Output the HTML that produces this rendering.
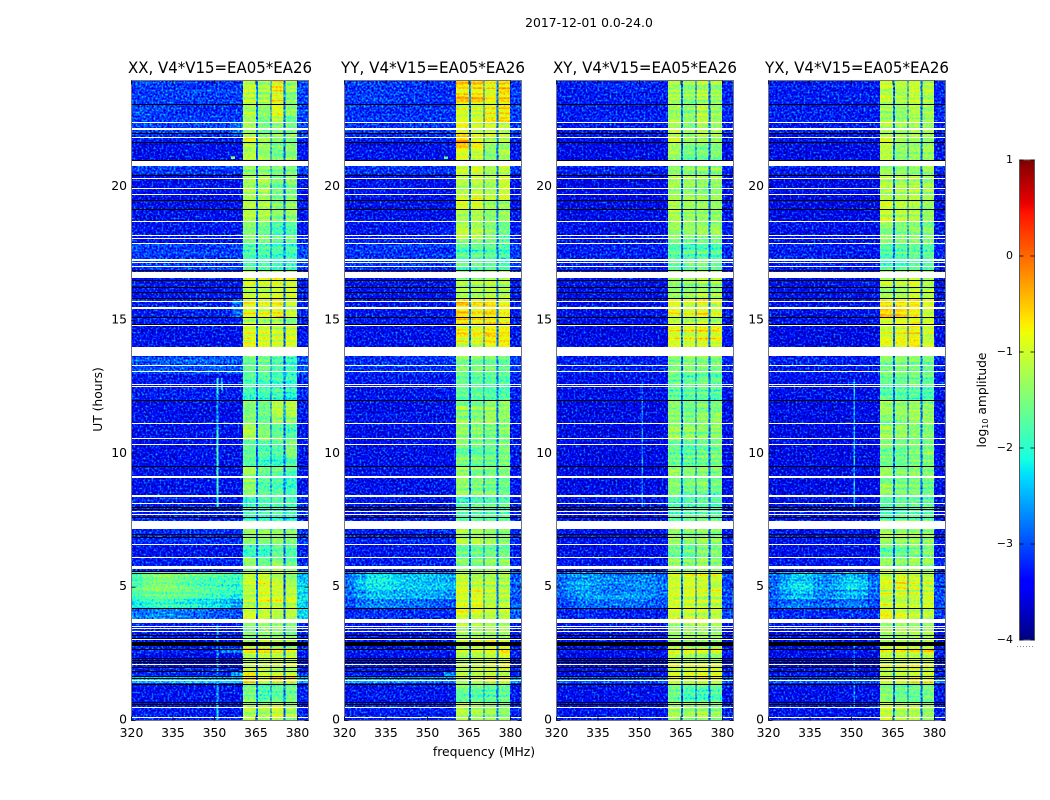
<!DOCTYPE html>
<html>
<head>
<meta charset="utf-8">
<style>
html,body{margin:0;padding:0;background:#fff;width:1050px;height:800px;overflow:hidden}
svg{display:block}
text{font-family:"DejaVu Sans","Liberation Sans",sans-serif;fill:#000}
</style>
</head>
<body>
<svg id="figure" width="1050" height="800" viewBox="0 0 1050 800" xmlns="http://www.w3.org/2000/svg">
<rect width="1050" height="800" fill="#fff"/>
<defs id="defs"></defs>
<text x="589" y="27" font-size="12.4" text-anchor="middle">2017-12-01 0.0-24.0</text>
<text x="484" y="756" font-size="12.4" text-anchor="middle">frequency (MHz)</text>
<text transform="translate(102,399.5) rotate(-90)" font-size="12.3" text-anchor="middle">UT (hours)</text>
<text transform="translate(986,400) rotate(-90)" font-size="12.3" text-anchor="middle">log<tspan font-size="8" dy="2">10</tspan><tspan dy="-2"> amplitude</tspan></text>
</svg>
<script>
// ---------- chart data (log10 amplitude, hours, MHz) ----------
const panelTitles = ["XX, V4*V15=EA05*EA26","YY, V4*V15=EA05*EA26","XY, V4*V15=EA05*EA26","YX, V4*V15=EA05*EA26"];
const xTickLabels = [320,335,350,365,380];
const yTickLabels = [0,5,10,15,20];
const colorbarTicks = [1,0,-1,-2,-3,-4];

// time segments, top to bottom (hours)
const segmentEdges = [24,23.1,22.45,21.9,21.7,21,20.5,19.5,18.7,17.9,16.9,15.85,15.1,14.8,14,13.65,13,12.5,12,11.1,10.5,9.5,9.1,8.4,7.5,6.6,6.1,5.6,4.9,4.2,3.8,3,2.7,2.55,2.1,1.95,1.8,1.65,1.4,0.7,0];
// spectral windows (MHz)
const bandLow = [360.4,365.8,370.6,375.6];
const bandHigh = [365.1,370.2,374.9,379.8];

const xxBackground = [-3.1,-3.1,-3.1,-3.3,-3.4,-3.1,-3.4,-3.4,-3.35,-3.1,-3.35,-3.3,-3.3,-3.4,-3.4,-3,-3.35,-3.3,-3.4,-3.4,-3.4,-3.4,-3.4,-3.3,-3.2,-3.35,-3.3,-3.3,-3.3,-3.3,-3.3,-3.3,-3.2,-3.4,-3.3,-3.3,-3.2,-2.4,-3.35,-3.3];
const yyBackground = [-3.15,-3.15,-3.15,-3.3,-3.4,-3.15,-3.4,-3.4,-3.35,-3.15,-3.35,-3.35,-3.35,-3.4,-3.4,-3.15,-3.35,-3.35,-3.4,-3.4,-3.4,-3.4,-3.4,-3.35,-3.25,-3.35,-3.3,-3.3,-3.3,-3.3,-3.35,-3.35,-3.3,-3.4,-3.35,-3.35,-3.3,-2.6,-3.35,-3.3];
const xyBackground = [-3.3,-3.3,-3.35,-3.4,-3.45,-3.3,-3.45,-3.45,-3.4,-3.3,-3.4,-3.4,-3.4,-3.45,-3.45,-3.3,-3.4,-3.4,-3.45,-3.45,-3.45,-3.45,-3.45,-3.4,-3.35,-3.4,-3.35,-3.35,-3.35,-3.35,-3.4,-3.4,-3.35,-3.45,-3.4,-3.4,-3.4,-2.9,-3.4,-3.35];
const yxBackground = [-3.3,-3.3,-3.35,-3.4,-3.45,-3.3,-3.45,-3.45,-3.4,-3.3,-3.4,-3.4,-3.4,-3.45,-3.45,-3.3,-3.4,-3.4,-3.45,-3.45,-3.45,-3.45,-3.45,-3.4,-3.35,-3.4,-3.35,-3.35,-3.35,-3.35,-3.4,-3.4,-3.35,-3.45,-3.4,-3.4,-3.4,-2.9,-3.4,-3.35];

const xxBands = [[-1.1,-1.25,-.8,-1.35],[-1.2,-1.45,-1,-1.5],[-1.25,-1.5,-1.4,-1.5],[-.9,-1.3,-1.5,-1.5],[-1.2,-1.4,-1.6,-1.5],[-1.4,-1.4,-1.5,-1.5],[-1.25,-1.25,-1.55,-1.45],[-1.15,-1.2,-1.45,-1.4],[-1.45,-1.55,-1.75,-1.65],[-1.8,-1.8,-1.9,-1.9],[-1.05,-1.05,-.95,-.95],[-.85,-.9,-.8,-1.05],[-1.2,-1.2,-1,-1.3],[-.9,-.95,-1,-.95],[-1,-1,-1,-1],[-1.6,-1.5,-1.7,-1.85],[-1.75,-1.85,-1.9,-2],[-1.9,-1.9,-1.9,-2.1],[-1.45,-1.6,-1.25,-1.3],[-1.2,-1.4,-1.6,-1.8],[-1.7,-1.8,-1.8,-1.55],[-1.3,-1.6,-1.6,-1.8],[-1.4,-1.7,-1.7,-1.85],[-1.95,-1.9,-1.9,-2],[-1.4,-1.5,-1.5,-1.6],[-1.9,-1.9,-1.65,-1.8],[-1.4,-1.6,-1.4,-1.6],[-1.05,-.9,-1,-1.15],[-1.15,-.95,-1,-1.1],[-.95,-1,-1.1,-1.05],[-1.5,-1.4,-1.4,-1.5],[-1.2,-1.05,-1.2,-1.3],[-.45,-.45,-.55,-.6],[-1.2,-1.2,-1.2,-1.2],[-.95,-.95,-.9,-.85],[-1.2,-1.2,-1.2,-1.2],[-.6,-1.1,-1.1,-1.2],[-.55,-.85,-.5,-.6],[-1.5,-1.85,-1.7,-1.6],[-1.2,-1.25,-1,-1.25]];
const yyBands = [[-.55,-.6,-.85,-.6],[-1,-1.05,-.8,-.7],[-.95,-1.15,-1.05,-1.1],[-.5,-1,-1.3,-1.2],[-.75,-.95,-1.4,-1.25],[-1,-.95,-1.2,-1.05],[-1.05,-1,-1.2,-1],[-1.1,-1.1,-1.35,-1.3],[-1.35,-1.35,-1.5,-1.6],[-1.75,-1.7,-1.7,-1.85],[-1.25,-1.25,-1.15,-1.2],[-.6,-.75,-.65,-.8],[-.6,-.75,-.7,-.8],[-.85,-.9,-.7,-.75],[-1,-1,-1,-1],[-1.5,-1.55,-1.55,-1.65],[-1.6,-1.7,-1.7,-1.75],[-1.7,-1.7,-1.75,-1.8],[-1.4,-1.45,-1.3,-1.35],[-1.3,-1.35,-1.5,-1.45],[-1.55,-1.6,-1.6,-1.5],[-1.3,-1.5,-1.5,-1.5],[-1.4,-1.5,-1.55,-1.6],[-1.8,-1.7,-1.7,-1.75],[-1.3,-1.3,-1.35,-1.4],[-1.65,-1.6,-1.6,-1.6],[-1.35,-1.45,-1.3,-1.4],[-1,-1.1,-1.15,-1.2],[-.9,-.85,-1.1,-1.15],[-.95,-1,-1.1,-1.1],[-1.3,-1.3,-1.25,-1.25],[-1.2,-1.1,-.95,-1.1],[-.9,-.9,-.85,-.6],[-1.1,-1.05,-1.05,-1],[-.85,-.85,-.8,-.75],[-1.2,-1.1,-1.1,-1.1],[-1,-1.1,-1.1,-1.2],[-.9,-.85,-.6,-.8],[-1.6,-1.7,-1.75,-1.65],[-1.2,-1.25,-1.3,-1.4]];
const xyBands = [[-1.2,-1.25,-1.05,-1.2],[-1.3,-1.45,-1.2,-1.35],[-1.25,-1.5,-1.3,-1.35],[-.9,-1.35,-1.35,-1.4],[-1.25,-1.45,-1.4,-1.35],[-1.35,-1.4,-1.4,-1.35],[-1.25,-1.3,-1.35,-1.35],[-1.15,-1.25,-1.3,-1.35],[-1.4,-1.5,-1.5,-1.5],[-1.7,-1.75,-1.7,-1.8],[-1.35,-1.35,-1.2,-1.25],[-.85,-.95,-.75,-.95],[-1.1,-1.1,-.9,-1.1],[-.9,-1,-.95,-1],[-1,-1,-1,-1],[-1.5,-1.5,-1.55,-1.6],[-1.6,-1.7,-1.6,-1.7],[-1.7,-1.75,-1.75,-1.85],[-1.4,-1.5,-1.35,-1.35],[-1.3,-1.4,-1.5,-1.45],[-1.6,-1.65,-1.55,-1.5],[-1.35,-1.5,-1.5,-1.55],[-1.45,-1.55,-1.5,-1.6],[-1.8,-1.75,-1.7,-1.8],[-1.3,-1.35,-1.3,-1.4],[-1.6,-1.65,-1.5,-1.55],[-1.35,-1.45,-1.3,-1.4],[-1,-.9,-.95,-1],[-1,-1,-1.05,-1.05],[-1,-1,-1.05,-1.1],[-1.35,-1.3,-1.3,-1.35],[-1.15,-1.1,-1.15,-1.2],[-.7,-.7,-.7,-.7],[-1.1,-1.1,-1.1,-1.1],[-.9,-.9,-.85,-.85],[-1.2,-1.15,-1.15,-1.15],[-1,-1.1,-1.1,-1.15],[-.85,-.85,-.65,-.8],[-1.55,-1.7,-1.7,-1.6],[-1.25,-1.3,-1.2,-1.35]];
const yxBands = [[-1.1,-1.2,-1.05,-1.2],[-1.25,-1.35,-1.2,-1.3],[-1.25,-1.35,-1.3,-1.35],[-1,-1.3,-1.3,-1.35],[-1.2,-1.4,-1.35,-1.3],[-1.3,-1.35,-1.35,-1.3],[-1.2,-1.25,-1.2,-1.25],[-1.1,-1.2,-1.2,-1.3],[-1.35,-1.45,-1.4,-1.45],[-1.7,-1.7,-1.65,-1.75],[-1.3,-1.25,-1,-1.15],[-.75,-.7,-.7,-.9],[-.95,-.9,-.85,-1.05],[-.9,-.85,-.75,-1],[-1,-1,-1,-1],[-1.5,-1.45,-1.5,-1.55],[-1.6,-1.6,-1.55,-1.65],[-1.7,-1.7,-1.7,-1.8],[-1.4,-1.4,-1.3,-1.35],[-1.3,-1.35,-1.45,-1.45],[-1.55,-1.6,-1.5,-1.5],[-1.35,-1.45,-1.45,-1.5],[-1.4,-1.5,-1.45,-1.55],[-1.8,-1.7,-1.7,-1.75],[-1.3,-1.3,-1.3,-1.35],[-1.6,-1.6,-1.5,-1.5],[-1.35,-1.4,-1.3,-1.35],[-1,-.85,-1,-1.05],[-.95,-1,-1.05,-1.05],[-.95,-1,-1.05,-1.1],[-1.3,-1.25,-1.25,-1.3],[-1.15,-1.05,-1.1,-1.15],[-.75,-.7,-.7,-.75],[-1.1,-1.05,-1.05,-1.1],[-.9,-.9,-.85,-.85],[-1.15,-1.1,-1.1,-1.15],[-1,-1.05,-1.1,-1.1],[-.85,-.8,-.65,-.8],[-1.5,-1.6,-1.6,-1.55],[-1.05,-1.2,-1.15,-1.3]];

// broadband emission event around 4-5.6 h
const eventEdges = [5.6,5.25,4.9,4.55,4.2,3.8];
const eventFreqEdges = [320,324,328,332,336,340,344,348,352,356,360.4];
const xxEvent = [[-1.85,-1.65,-1.5,-1.5,-1.6,-1.7,-1.75,-1.8,-1.85,-1.95],[-1.8,-1.55,-1.45,-1.45,-1.55,-1.6,-1.7,-1.75,-1.85,-1.95],[-1.9,-1.7,-1.6,-1.6,-1.65,-1.75,-1.8,-1.9,-2,-2.1],[-2.2,-2.05,-1.95,-1.95,-2,-2.1,-2.15,-2.2,-2.35,-2.6],[-2.85,-2.8,-2.7,-2.7,-2.75,-2.8,-2.85,-2.9,-2.95,-3]];
const yyEvent = [[-2.85,-2.6,-2.35,-2.3,-2.35,-2.45,-2.4,-2.4,-2.45,-2.5],[-2.8,-2.5,-2.25,-2.25,-2.35,-2.4,-2.4,-2.4,-2.4,-2.5],[-2.85,-2.6,-2.4,-2.4,-2.45,-2.5,-2.5,-2.5,-2.55,-2.6],[-3,-2.85,-2.75,-2.75,-2.8,-2.8,-2.85,-2.85,-2.9,-2.95],[-3.25,-3.2,-3.15,-3.15,-3.15,-3.15,-3.2,-3.2,-3.2,-3.25]];
const xyEvent = [[-2.9,-2.7,-2.6,-2.65,-2.7,-2.75,-2.75,-2.75,-2.75,-2.85],[-2.85,-2.6,-2.5,-2.6,-2.7,-2.7,-2.7,-2.65,-2.7,-2.8],[-2.9,-2.7,-2.6,-2.65,-2.75,-2.75,-2.7,-2.7,-2.75,-2.85],[-3,-2.9,-2.8,-2.85,-2.9,-2.9,-2.9,-2.9,-2.95,-3],[-3.25,-3.25,-3.2,-3.2,-3.25,-3.25,-3.25,-3.25,-3.25,-3.3]];
const yxEvent = [[-2.9,-2.6,-2.4,-2.4,-2.6,-2.7,-2.55,-2.4,-2.5,-2.85],[-2.85,-2.5,-2.25,-2.3,-2.6,-2.65,-2.45,-2.25,-2.4,-2.8],[-2.9,-2.6,-2.4,-2.45,-2.7,-2.7,-2.55,-2.4,-2.5,-2.85],[-3,-2.85,-2.75,-2.8,-2.9,-2.9,-2.85,-2.8,-2.85,-3],[-3.25,-3.2,-3.2,-3.2,-3.25,-3.25,-3.2,-3.2,-3.2,-3.25]];
// high-frequency edge (380-384 MHz) during the event
const eventRight = [-2.3,-2.95,-3.05,-3.05];

// narrow-band interference and short streaks
const featurePanel = [0,0,0,0,0,0,0,0,0,1,1,2,3,3,0,0];
const featureLow  = [350.7,352.3,350.7,350.7,352,356,356.5,356.5,356,356,356,350.7,350.7,350.7,350.7,350.7];
const featureHigh = [351.4,353,351.4,351.4,360.4,360.4,360.4,360.4,357.5,357.5,360.4,351.2,351.2,351.2,351.4,351.4];
const featureTop  = [12.85,12.85,10.9,3.6,2.7,1.8,15.85,22.45,21.15,21.15,1.8,12.8,12.8,3.4,12.3,0.6];
const featureBottom=[12.3,12.4,8,0,2.55,1.65,15.1,21.9,21.05,21.05,1.65,8,8,0.5,10.9,0.1];
const featureLevel = [-1.9,-2.4,-1.95,-2.55,-2.5,-2.5,-2.85,-2.85,-1.3,-1.6,-2.6,-2.75,-2.45,-2.7,-2.5,-2.1];

// flagged (white) intervals
const flagStart = [20.78,16.58,13.65,7.17,5.66,3.64,22.12,15.42,9.09];
const flagEnd   = [20.97,16.8,13.98,7.47,5.78,3.79,22.2,15.49,9.16];
const flagLines = [22.41,21.87,21.67,20.33,19.95,19.71,18.7,18.18,18.08,17.88,17.3,17.26,17.18,17.02,15.7,14.81,13.32,13.08,12.59,12.51,11.13,10.56,10.34,8.45,8.4,8.13,7.84,7.73,6.59,6.1,3.54,3.45,3.34,3.03,2.09,1.5,0.49,0.1];
// zero-amplitude (black) intervals
const zeroLines = [23.09,22.02,21.67,21,20.45,19.49,19.15,16.88,16.5,16.25,16.04,15.84,15.1,14.85,11.99,9.54,7.98,7.93,7.61,6.96,6.86,5.58,5.53,4.19,3.2,3.09,2.66,2.34,2.25,2.16,1.98,1.84,1.64,1.59,1.35,0.69,0.59];
const zeroStart = [2.78];
const zeroEnd = [2.94];

const backgroundByPanel = [xxBackground,yyBackground,xyBackground,yxBackground];
const bandsByPanel = [xxBands,yyBands,xyBands,yxBands];
const eventByPanel = [xxEvent,yyEvent,xyEvent,yxEvent];
const gapLevel = [-2.85,-2.8,-2.85,-2.85];

// ---------- layout and scales ----------
const NS = "http://www.w3.org/2000/svg";
const fig = document.getElementById("figure");
const defs = document.getElementById("defs");
const panelLeft = [131.5,344.5,556.5,768.5];
const panelWidth = 177, plotTop = 80.5, plotBottom = 720.5;
const xScale = (p,f) => panelLeft[p] + (f-320)*panelWidth/64;
const yScale = h => plotBottom - h*(plotBottom-plotTop)/24;
function lerp(stops,t){
  for(let i=1;i<stops.length;i++){
    if(t<=stops[i][0]){
      const a=stops[i-1],b=stops[i];
      return a[1]+(b[1]-a[1])*(t-a[0])/(b[0]-a[0]);
    }
  }
  return stops[stops.length-1][1];
}
const jetR=[[0,0],[.35,0],[.66,1],[.89,1],[1,.5]];
const jetG=[[0,0],[.125,0],[.375,1],[.64,1],[.91,0],[1,0]];
const jetB=[[0,.5],[.11,1],[.34,1],[.65,0],[1,0]];
function el(tag,attrs,parent){
  const e=document.createElementNS(NS,tag);
  for(const k in attrs) e.setAttribute(k,attrs[k]);
  (parent||fig).appendChild(e);
  return e;
}
const levelGray = v => { const g=Math.round(Math.max(0,Math.min(1,(v+4)/5))*255); return "rgb("+g+","+g+","+g+")"; };
function jetColor(t){
  return "rgb("+Math.round(lerp(jetR,t)*255)+","+Math.round(lerp(jetG,t)*255)+","+Math.round(lerp(jetB,t)*255)+")";
}
function table(stops){
  const out=[];
  for(let i=0;i<=128;i++) out.push(lerp(stops,i/128).toFixed(4));
  return out.join(" ");
}
function makeFilter(p){
  const f=el("filter",{id:"jet"+p,filterUnits:"userSpaceOnUse",x:panelLeft[p],y:plotTop,width:panelWidth,height:plotBottom-plotTop,"color-interpolation-filters":"sRGB"},defs);
  el("feTurbulence",{type:"fractalNoise",baseFrequency:"0.5",numOctaves:2,seed:p*7+3,result:"n1"},f);
  el("feColorMatrix",{in:"n1",type:"matrix",values:"1 0 0 0 0 1 0 0 0 0 1 0 0 0 0 0 0 0 0 1",result:"g1"},f);
  el("feTurbulence",{type:"fractalNoise",baseFrequency:"0.012 0.4",numOctaves:1,seed:11,result:"n2"},f);
  el("feColorMatrix",{in:"n2",type:"matrix",values:"1 0 0 0 0 1 0 0 0 0 1 0 0 0 0 0 0 0 0 1",result:"g2"},f);
  // row streaks grow with level; speckle shrinks with level
  el("feComposite",{in:"SourceGraphic",in2:"g2",operator:"arithmetic",k1:.49,k2:.755,k3:.02,k4:-.01,result:"a"},f);
  el("feComposite",{in:"a",in2:"g1",operator:"arithmetic",k1:-.63,k2:1.315,k3:.63,k4:-.315,result:"b"},f);
  const c=el("feComponentTransfer",{in:"b"},f);
  el("feFuncR",{type:"table",tableValues:table(jetR)},c);
  el("feFuncG",{type:"table",tableValues:table(jetG)},c);
  el("feFuncB",{type:"table",tableValues:table(jetB)},c);
  el("feFuncA",{type:"linear",slope:1,intercept:1},c);
}
function cell(g,p,f0,f1,h0,h1,v){
  const x0=xScale(p,f0),x1=xScale(p,f1),y0=yScale(h0),y1=yScale(h1);
  const r=el("rect",{x:x0,y:y0,width:x1-x0,height:y1-y0,fill:levelGray(v),"shape-rendering":"crispEdges"},g);
  
  
  return r;
}
function hBar(g,p,h0,h1,color,name,minH){
  const y0=Math.floor(yScale(h0));
  const y1=Math.max(y0+minH,Math.floor(yScale(h1)));
  const r=el("rect",{x:Math.floor(panelLeft[p]),y:y0,width:panelWidth+1,height:y1-y0,fill:color},g);
  
  
}

// ---------- panels ----------
panelTitles.forEach(function(title,p){
  makeFilter(p);
  const panel=el("g",{});
  
  
  const heat=el("g",{filter:"url(#jet"+p+")"},panel);
  
  
  const bg=backgroundByPanel[p], bands=bandsByPanel[p], ev=eventByPanel[p];
  for(let r=0;r<segmentEdges.length-1;r++){
    const hi=segmentEdges[r], lo=segmentEdges[r+1];
    cell(heat,p,320,bandLow[0],hi,lo,bg[r]);
    cell(heat,p,bandHigh[3],384,hi,lo,bg[r]+0.05);
    for(let b=0;b<bandLow.length;b++){
      cell(heat,p,bandLow[b],bandHigh[b],hi,lo,bands[r][b]);
      if(b<3) cell(heat,p,bandHigh[b],bandLow[b+1],hi,lo,gapLevel[p]);
    }
  }
  for(let r=0;r<eventEdges.length-1;r++){
    for(let c=0;c<eventFreqEdges.length-1;c++){
      cell(heat,p,eventFreqEdges[c],eventFreqEdges[c+1],eventEdges[r],eventEdges[r+1],ev[r][c]);
    }
    cell(heat,p,bandHigh[3],384,eventEdges[r],eventEdges[r+1],eventRight[p]);
  }
  featurePanel.forEach(function(fp,i){
    if(fp===p && featureTop[i]>featureBottom[i]){
      cell(heat,p,featureLow[i],featureHigh[i],featureTop[i],featureBottom[i],featureLevel[i]);
    }
  });
  const marks=el("g",{},panel);
  
  
  flagStart.forEach(function(s,i){ hBar(marks,p,flagEnd[i],s,"#fff","flagged-interval",1); });
  flagLines.forEach(function(h){ hBar(marks,p,h,h,"#fff","flagged-line",1); });
  zeroLines.forEach(function(h){ hBar(marks,p,h,h,"#000","zero-line",1); });
  zeroStart.forEach(function(s,i){ hBar(marks,p,zeroEnd[i],s,"#000","zero-interval",1); });

  // frame
  const frame=el("rect",{x:panelLeft[p],y:plotTop,width:panelWidth,height:plotBottom-plotTop,fill:"none",stroke:"#777","stroke-width":1},panel);
  
  

  // title
  const t=el("text",{x:panelLeft[p]+88.5,y:73,"font-size":16,"text-anchor":"middle",textLength:184,lengthAdjust:"spacingAndGlyphs"},panel);
  t.textContent=title;
  
  

  // x ticks
  xTickLabels.forEach(function(v){
    const x=xScale(p,v);
    const a=el("line",{x1:x,x2:x,y1:plotBottom,y2:plotBottom-4,stroke:"#000","stroke-width":.8},panel);
    
    
    const b=el("line",{x1:x,x2:x,y1:plotTop,y2:plotTop+4,stroke:"#000","stroke-width":.8},panel);
    
    
    const l=el("text",{x:x,y:737,"font-size":12.4,"text-anchor":"middle"},panel);
    l.textContent=v;
    
    
  });
  // y ticks
  yTickLabels.forEach(function(v){
    const y=yScale(v);
    const a=el("line",{x1:panelLeft[p],x2:panelLeft[p]+4,y1:y,y2:y,stroke:"#000","stroke-width":.8},panel);
    
    
    const b=el("line",{x1:panelLeft[p]+panelWidth,x2:panelLeft[p]+panelWidth-4,y1:y,y2:y,stroke:"#000","stroke-width":.8},panel);
    
    
    const l=el("text",{x:panelLeft[p]-4.5,y:y+3,"font-size":12.4,"text-anchor":"end"},panel);
    l.textContent=v;
    
    
  });
});

// ---------- colorbar ----------
const cbLeft=1019.5, cbWidth=15, cbTop=160, cbBottom=640, cbMin=-4, cbMax=1;
const cbY = v => cbBottom-(v-cbMin)/(cbMax-cbMin)*(cbBottom-cbTop);
const cb=el("g",{});


for(let i=0;i<240;i++){
  const r=el("rect",{x:cbLeft,y:cbTop+i*2,width:cbWidth,height:2,fill:jetColor(1-(i+.5)/240),"shape-rendering":"crispEdges"},cb);
  
  
}
const cbFrame=el("rect",{x:cbLeft,y:cbTop,width:cbWidth,height:cbBottom-cbTop,fill:"none",stroke:"#555","stroke-width":1},cb);


colorbarTicks.forEach(function(v){
  const y=cbY(v);
  const a=el("line",{x1:cbLeft,x2:cbLeft+4,y1:y,y2:y,stroke:"#000","stroke-width":.8},cb);
  
  
  const b=el("line",{x1:cbLeft+cbWidth,x2:cbLeft+cbWidth-4,y1:y,y2:y,stroke:"#000","stroke-width":.8},cb);
  
  
  const l=el("text",{x:1013,y:y+3,"font-size":11,"text-anchor":"end"},cb);
  l.textContent=String(v).replace("-","\u2212");
  
  
});
const cbDots=el("line",{x1:1017,x2:1035,y1:646.5,y2:646.5,stroke:"#888","stroke-width":1,"stroke-dasharray":"1 2"},cb);


</script>
</body>
</html>
